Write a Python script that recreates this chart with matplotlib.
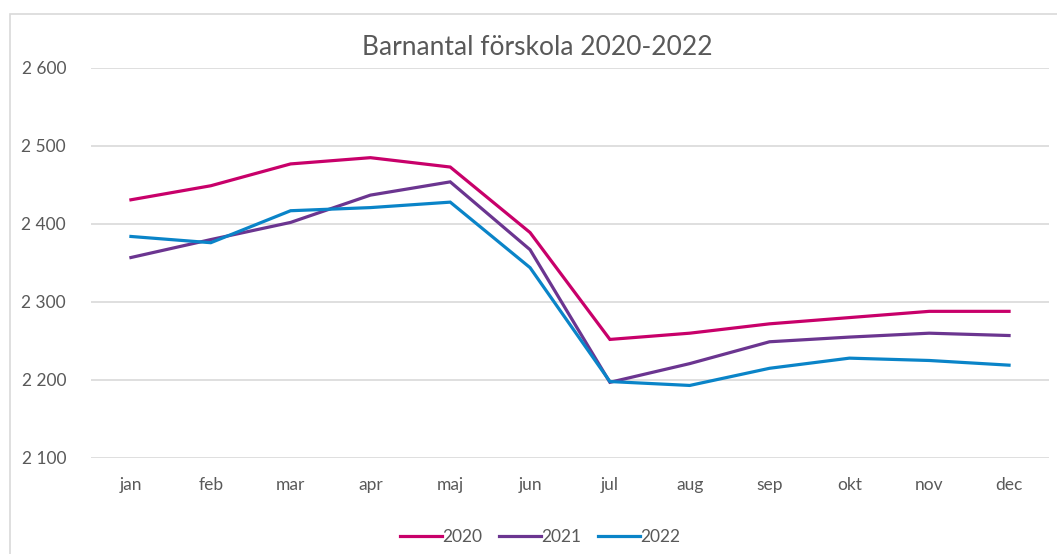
import matplotlib
matplotlib.use("Agg")
import matplotlib.pyplot as plt
from matplotlib.patches import Rectangle
from matplotlib.ticker import FuncFormatter

# --- Data ---
months = ["jan", "feb", "mar", "apr", "maj", "jun",
          "jul", "aug", "sep", "okt", "nov", "dec"]
barn_2020 = [2431, 2449, 2477, 2485, 2473, 2389, 2252, 2260, 2272, 2280, 2288, 2288]
barn_2021 = [2357, 2380, 2402, 2437, 2454, 2367, 2197, 2221, 2249, 2255, 2260, 2257]
barn_2022 = [2384, 2376, 2417, 2421, 2428, 2344, 2198, 2193, 2215, 2228, 2225, 2219]
years = ["2020", "2021", "2022"]
colors = ["#C8006A", "#6B3590", "#0A84C8"]
yticks = [2100, 2200, 2300, 2400, 2500, 2600]

text_col = "#595959"
plt.rcParams["font.family"] = ["Lato", "DejaVu Sans"]

fig = plt.figure(figsize=(10.57, 5.54), dpi=100)
ax = fig.add_axes([0.0861, 0.1733, 0.9063, 0.704])

# light frame around the chart area
fig.patches.append(Rectangle((10 / 1057, -0.1), 1.2, 1 - 14 / 554 + 0.1,
                             transform=fig.transFigure, fill=False,
                             edgecolor="#D9D9D9", linewidth=1.2))

x = list(range(len(months)))
for series, year, c in zip([barn_2020, barn_2021, barn_2022], years, colors):
    ax.plot(x, series, color=c, linewidth=2.3, label=year, solid_joinstyle="miter")

ax.set_xlim(-0.5, len(months) - 0.5)
ax.set_ylim(yticks[0], yticks[-1])
ax.set_yticks(yticks)
ax.set_xticks(x)
ax.set_xticklabels(months)
ax.yaxis.set_major_formatter(FuncFormatter(lambda v, p: f"{int(v):,}".replace(",", " ")))
ax.grid(axis="y", color="#D9D9D9", linewidth=1.2)
ax.set_axisbelow(True)
for s in ax.spines.values():
    s.set_visible(False)
ax.tick_params(axis="both", length=0, labelsize=12.5, colors=text_col)
ax.tick_params(axis="y", pad=18)
ax.tick_params(axis="x", pad=14)

# title centred on the whole chart frame, not the plot area
fig.text(0.508, 0.915, "Barnantal förskola 2020-2022", fontsize=19, color=text_col,
         ha="center", va="center")

fig.legend(loc="lower center", bbox_to_anchor=(0.511, -0.012), ncol=3, frameon=False,
           fontsize=12.5, labelcolor=text_col, handlelength=2.4, handletextpad=0.0,
           columnspacing=1.0)

fig.savefig("out.png", dpi=100)
